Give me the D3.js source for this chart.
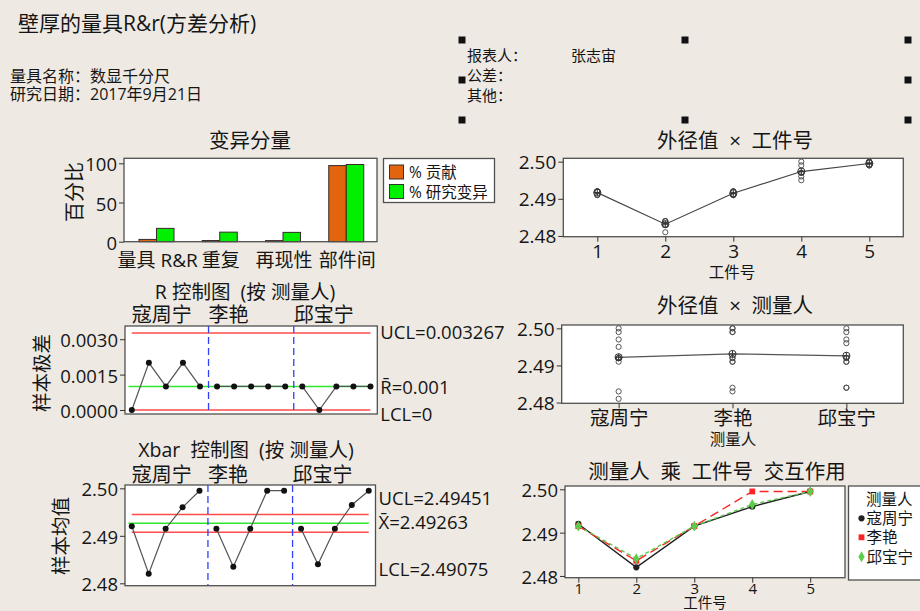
<!DOCTYPE html>
<html>
<head>
<meta charset="utf-8">
<script src="https://cdn.jsdelivr.net/npm/d3@7"></script>
<style>
  body { margin: 0; background: #eeeae3; }
  svg text { font-family: "Open Sans", "Noto Sans CJK SC", sans-serif; fill: #151515; white-space: pre; }
</style>
</head>
<body>
<script>
var operators = ["寇周宁", "李艳", "邱宝宁"];
var parts = [1, 2, 3, 4, 5];
// two trials per operator, one value per part
var trial1 = [[2.492, 2.481, 2.491, 2.495, 2.499],
              [2.491, 2.483, 2.491, 2.499, 2.499],
              [2.491, 2.484, 2.491, 2.496, 2.499]];
var trial2 = [[2.492, 2.483, 2.492, 2.497, 2.500],
              [2.492, 2.484, 2.492, 2.500, 2.500],
              [2.492, 2.484, 2.492, 2.497, 2.500]];

var sources = ["量具 R&R", "重复", "再现性", "部件间"];
var pctContrib = [2.9, 1.5, 1.4, 97.1];
var pctStudyVar = [17.0, 12.2, 11.9, 98.5];

var rLimits = [0.003267, 0.001, 0];
var rLabels = ["UCL=0.003267", "R\u0304=0.001", "LCL=0"];
var xbarLimits = [2.49451, 2.49263, 2.49075];
var xbarLabels = ["UCL=2.49451", "X\u0304=2.49263", "LCL=2.49075"];

var barTicks = [0, 50, 100];
var rTicks = [0, 0.0015, 0.003];
var valTicks = [2.48, 2.49, 2.50];

// per-subgroup stats (operator x part)
var subgroups = [];
operators.forEach(function(op, i) {
  parts.forEach(function(p, j) {
    var a = trial1[i][j], b = trial2[i][j];
    subgroups.push({ op: op, part: p, mean: (a + b) / 2, range: Math.abs(a - b) });
  });
});
subgroups.forEach(function(d, i) { d.idx = i + 1; });

var svg = d3.select("body").append("svg")
  .attr("width", 920)
  .attr("height", 611);

svg.append("rect").attr("width", 920).attr("height", 611).attr("fill", "#eeeae3");

function txt(x, y, s, size, anchor) {
  return svg.append("text")
    .attr("x", x).attr("y", y)
    .attr("dominant-baseline", "central")
    .attr("text-anchor", anchor || "start")
    .style("font-size", size + "px")
    .text(s);
}

function vtxt(x, y, s, size) {
  return svg.append("text")
    .attr("transform", "translate(" + x + "," + y + ") rotate(-90)")
    .attr("dominant-baseline", "central")
    .attr("text-anchor", "middle")
    .style("font-size", size + "px")
    .text(s);
}

function frame(x, y) {
  svg.append("rect")
    .attr("x", x.range()[0]).attr("y", y.range()[1])
    .attr("width", x.range()[1] - x.range()[0])
    .attr("height", y.range()[0] - y.range()[1])
    .attr("fill", "#fff");
}

function border(x, y) {
  svg.append("rect")
    .attr("x", x.range()[0]).attr("y", y.range()[1])
    .attr("width", x.range()[1] - x.range()[0])
    .attr("height", y.range()[0] - y.range()[1])
    .attr("fill", "none")
    .attr("stroke", "#505050")
    .attr("stroke-width", 1.3);
}

function leftAxis(x, y, ticks, fmt, size) {
  var g = svg.append("g")
    .attr("transform", "translate(" + x.range()[0] + ",0)")
    .attr("color", "#333")
    .call(d3.axisLeft(y).tickValues(ticks).tickFormat(fmt).tickSize(5).tickPadding(2));
  g.select(".domain").remove();
  g.selectAll("text").style("font-size", size + "px").attr("dy", null).attr("dominant-baseline", "central");
  return g;
}

function bottomAxis(x, y, ticks, fmt, size, pad) {
  var g = svg.append("g")
    .attr("transform", "translate(0," + y.range()[0] + ")")
    .attr("color", "#333")
    .call(d3.axisBottom(x).tickValues(ticks).tickFormat(fmt).tickSize(5).tickPadding(pad));
  g.select(".domain").remove();
  g.selectAll("text").style("font-size", size + "px");
  return g;
}

// ---- header ----
txt(18, 23, "壁厚的量具R&r(方差分析)", 21);
txt(10, 75.5, "量具名称：数显千分尺", 16);
txt(10, 94, "研究日期：2017年9月21日", 16);
txt(467, 55, "报表人：", 15);
txt(571, 55, "张志宙", 15);
txt(467, 75, "公差：", 15);
txt(467, 95, "其他：", 15);
[[462, 40], [685, 40], [908, 40], [462, 80], [908, 80], [462, 120], [685, 120], [908, 120]].forEach(function(p) {
  svg.append("rect").attr("x", p[0] - 3.5).attr("y", p[1] - 3.5).attr("width", 7).attr("height", 7).attr("fill", "#111");
});

// ---- 变异分量 bar chart ----
var xb = d3.scaleBand().domain(sources).range([124, 377]);
var xb2 = d3.scaleBand().domain(["c", "s"]).range([15, 50]);
var yb = d3.scaleLinear().domain([0, 106.4]).range([241.7, 158.3]);
frame(xb, yb);
var barData = [];
sources.forEach(function(s, i) {
  barData.push({ src: s, key: "c", v: pctContrib[i] });
  barData.push({ src: s, key: "s", v: pctStudyVar[i] });
});
svg.append("g").selectAll("rect")
  .data(barData)
  .enter().append("rect")
  .attr("x", function(d) { return xb(d.src) + xb2(d.key); })
  .attr("y", function(d) { return yb(d.v); })
  .attr("width", xb2.bandwidth())
  .attr("height", function(d) { return yb(0) - yb(d.v); })
  .attr("fill", function(d) { return d.key == "c" ? "#e2640c" : "#00f000"; })
  .attr("stroke", "#3a2a2a")
  .attr("stroke-width", 1);
border(xb, yb);
leftAxis(xb, yb, barTicks, d3.format("d"), 18.5);
sources.forEach(function(s) { txt(xb(s) + xb.bandwidth() / 2 + 2, 260, s, 19, "middle"); });
txt(250, 140, "变异分量", 20.5, "middle");
vtxt(74, 192, "百分比", 20);
svg.append("rect").attr("x", 383.5).attr("y", 158.5).attr("width", 111).attr("height", 44)
  .attr("fill", "#fff").attr("stroke", "#505050").attr("stroke-width", 1.3);
svg.append("rect").attr("x", 389.5).attr("y", 165).attr("width", 14).attr("height", 14).attr("fill", "#e2640c").attr("stroke", "#333");
svg.append("rect").attr("x", 389.5).attr("y", 184.5).attr("width", 14).attr("height", 14).attr("fill", "#00f000").attr("stroke", "#333");
txt(409, 172, "% 贡献", 15.5);
txt(409, 191.5, "% 研究变异", 15.5);

// ---- control charts by operator ----
function controlChart(x, y, key, limits, labels, labelY, ticks, fmt, opY) {
  frame(x, y);
  svg.append("line").attr("x1", x(1)).attr("x2", x(15)).attr("y1", y(limits[0])).attr("y2", y(limits[0]))
    .attr("stroke", "#ff4b4b").attr("stroke-width", 1.5);
  svg.append("line").attr("x1", x(0.8)).attr("x2", x(15)).attr("y1", y(limits[1])).attr("y2", y(limits[1]))
    .attr("stroke", "#2de82d").attr("stroke-width", 1.5);
  svg.append("line").attr("x1", x(1)).attr("x2", x(15)).attr("y1", y(limits[2])).attr("y2", y(limits[2]))
    .attr("stroke", "#ff4b4b").attr("stroke-width", 1.5);
  [5.5, 10.5].forEach(function(b) {
    svg.append("line").attr("x1", x(b)).attr("x2", x(b)).attr("y1", y.range()[1]).attr("y2", y.range()[0])
      .attr("stroke", "#3040ff").attr("stroke-width", 1.3).attr("stroke-dasharray", "7,4");
  });
  var line = d3.line().x(function(d) { return x(d.idx); }).y(function(d) { return y(d[key]); });
  operators.forEach(function(op) {
    svg.append("path")
      .datum(subgroups.filter(function(d) { return d.op == op; }))
      .attr("d", line).attr("fill", "none").attr("stroke", "#555").attr("stroke-width", 1.2);
  });
  svg.append("g").selectAll("circle").data(subgroups).enter().append("circle")
    .attr("cx", function(d) { return x(d.idx); })
    .attr("cy", function(d) { return y(d[key]); })
    .attr("r", 3).attr("fill", "#111");
  border(x, y);
  leftAxis(x, y, ticks, fmt, 18.5);
  labels.forEach(function(l, i) { txt(x.range()[1] + 3, labelY[i], l, 18.5); });
  txt(x(1), opY, operators[0], 20);
  txt(x(5.5), opY, operators[1], 20);
  txt(x(10.5), opY, operators[2], 20);
}

var xr = d3.scaleLinear().domain([0.6, 15.4]).range([125, 377.3]);
var yr = d3.scaleLinear().domain([-0.00017, 0.00356]).range([414, 326]);
controlChart(xr, yr, "range", rLimits, rLabels, [331.5, 386, 413], rTicks, d3.format(".4f"), 314);
txt(245, 291.5, "R 控制图  (按 测量人)", 19.5, "middle");
vtxt(41, 373, "样本极差", 19.5);

var xx = d3.scaleLinear().domain([0.6, 15.4]).range([125, 375.5]);
var yx = d3.scaleLinear().domain([2.4795, 2.5007]).range([585.7, 485]);
controlChart(xx, yx, "mean", xbarLimits, xbarLabels, [497, 521, 568.5], valTicks, d3.format(".2f"), 474);
txt(246, 449.5, "Xbar  控制图  (按 测量人)", 19.5, "middle");
vtxt(60, 536, "样本均值", 19.5);

// ---- 外径值 x 工件号 ----
function meanMarker(x, y) {
  var g = svg.append("g").attr("transform", "translate(" + x + "," + y + ")");
  g.append("circle").attr("r", 3.6).attr("fill", "none").attr("stroke", "#333").attr("stroke-width", 1);
  g.append("line").attr("x1", -3.6).attr("x2", 3.6).attr("stroke", "#333");
  g.append("line").attr("y1", -3.6).attr("y2", 3.6).attr("stroke", "#333");
}

var allObs = [];
operators.forEach(function(op, i) {
  parts.forEach(function(p, j) {
    allObs.push({ op: op, oi: i + 1, part: p, v: trial1[i][j] });
    allObs.push({ op: op, oi: i + 1, part: p, v: trial2[i][j] });
  });
});

var xp = d3.scaleLinear().domain([0.5, 5.5]).range([563.3, 903.3]);
var yp = d3.scaleLinear().domain([2.4798, 2.5009]).range([236.7, 158.3]);
frame(xp, yp);
var partMeans = parts.map(function(p) {
  return { k: p, v: d3.mean(allObs.filter(function(d) { return d.part == p; }), function(d) { return d.v; }) };
});
svg.append("g").selectAll("circle").data(allObs).enter().append("circle")
  .attr("cx", function(d) { return xp(d.part); })
  .attr("cy", function(d) { return yp(d.v); })
  .attr("r", 2.6).attr("fill", "none").attr("stroke", "#444").attr("stroke-width", 0.9);
svg.append("path").datum(partMeans)
  .attr("d", d3.line().x(function(d) { return xp(d.k); }).y(function(d) { return yp(d.v); }))
  .attr("fill", "none").attr("stroke", "#444").attr("stroke-width", 1.2);
partMeans.forEach(function(d) { meanMarker(xp(d.k), yp(d.v)); });
border(xp, yp);
leftAxis(xp, yp, valTicks, d3.format(".2f"), 19);
bottomAxis(xp, yp, parts, d3.format("d"), 19, 3);
txt(735, 140, "外径值  ×  工件号", 20.5, "middle");
txt(732, 272, "工件号", 15.5, "middle");

// ---- 外径值 x 测量人 ----
var xo = d3.scaleLinear().domain([0.5, 3.5]).range([561.7, 903.3]);
var yo = d3.scaleLinear().domain([2.4798, 2.5009]).range([403.3, 325]);
frame(xo, yo);
var opMeans = operators.map(function(op, i) {
  return { k: i + 1, v: d3.mean(allObs.filter(function(d) { return d.op == op; }), function(d) { return d.v; }) };
});
svg.append("g").selectAll("circle").data(allObs).enter().append("circle")
  .attr("cx", function(d) { return xo(d.oi); })
  .attr("cy", function(d) { return yo(d.v); })
  .attr("r", 2.6).attr("fill", "none").attr("stroke", "#444").attr("stroke-width", 0.9);
svg.append("path").datum(opMeans)
  .attr("d", d3.line().x(function(d) { return xo(d.k); }).y(function(d) { return yo(d.v); }))
  .attr("fill", "none").attr("stroke", "#555").attr("stroke-width", 1.2);
opMeans.forEach(function(d) { meanMarker(xo(d.k), yo(d.v)); });
border(xo, yo);
leftAxis(xo, yo, valTicks, d3.format(".2f"), 19);
bottomAxis(xo, yo, [1, 2, 3], function(d) { return operators[d - 1]; }, 19.5, 3);
txt(735, 305, "外径值  ×  测量人", 20.5, "middle");
txt(733, 439, "测量人", 15.5, "middle");

// ---- interaction ----
var xi = d3.scaleLinear().domain([0.77, 5.6]).range([565, 845]);
var yi = d3.scaleLinear().domain([2.4796, 2.50076]).range([577.7, 486]);
frame(xi, yi);
var seriesStyle = [
  { color: "#222", dash: null, shape: d3.symbolCircle, size: 30 },
  { color: "#ff2424", dash: "9,5", shape: d3.symbolSquare, size: 34 },
  { color: "#5ccc4c", dash: "4,3", shape: d3.symbolDiamond, size: 34 }
];
operators.forEach(function(op, i) {
  var pts = subgroups.filter(function(d) { return d.op == op; });
  var st = seriesStyle[i];
  svg.append("path").datum(pts)
    .attr("d", d3.line().x(function(d) { return xi(d.part); }).y(function(d) { return yi(d.mean); }))
    .attr("fill", "none").attr("stroke", st.color).attr("stroke-width", 1.4)
    .attr("stroke-dasharray", st.dash);
  svg.append("g").selectAll("path").data(pts).enter().append("path")
    .attr("transform", function(d) { return "translate(" + xi(d.part) + "," + yi(d.mean) + ")"; })
    .attr("d", d3.symbol().type(st.shape).size(st.size))
    .attr("fill", st.color);
});
border(xi, yi);
leftAxis(xi, yi, valTicks, d3.format(".2f"), 18.5);
bottomAxis(xi, yi, parts, d3.format("d"), 15, 1);
txt(717, 471, "测量人  乘  工件号  交互作用", 20.5, "middle");
txt(705, 602.5, "工件号", 14.5, "middle");
svg.append("rect").attr("x", 848.5).attr("y", 486).attr("width", 80).attr("height", 94)
  .attr("fill", "#fff").attr("stroke", "#505050").attr("stroke-width", 1.3);
txt(866, 498.5, "测量人", 15.5);
var legY = [518.3, 537.3, 556.7];
operators.forEach(function(op, i) {
  var st = seriesStyle[i];
  svg.append("path")
    .attr("transform", "translate(" + 861.5 + "," + legY[i] + ")")
    .attr("d", d3.symbol().type(st.shape).size(st.size))
    .attr("fill", st.color);
  txt(866.5, legY[i], op, 15.5);
});
</script>
</body>
</html>
